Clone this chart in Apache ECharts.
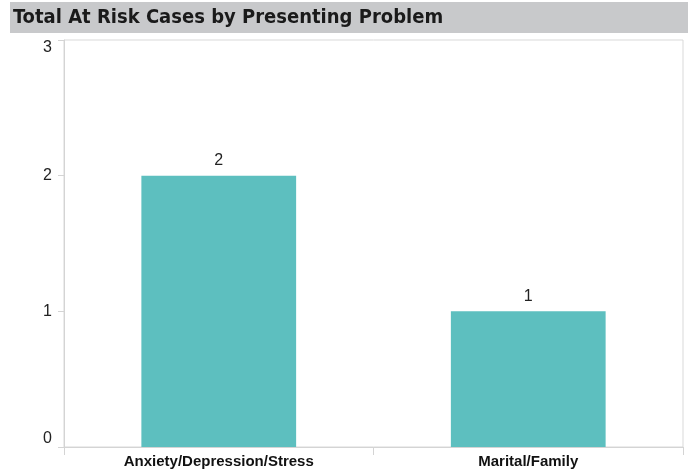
<!DOCTYPE html>
<html>
<head>
<meta charset="utf-8">
<script src="https://cdn.jsdelivr.net/npm/echarts@6/dist/echarts.min.js"></script>
<style>
  html, body { margin: 0; padding: 0; background: #ffffff; }
  #chart { width: 694px; height: 476px; }
</style>
</head>
<body>
<div id="chart"></div>
<script>
// Presenting problems and the number of at-risk cases for each
const categories = ['Anxiety/Depression/Stress', 'Marital/Family'];
const caseCounts = [2, 1];
const yTicks = [0, 1, 2, 3];

const chart = echarts.init(document.getElementById('chart'));

chart.setOption({
  animation: false,
  backgroundColor: '#ffffff',
  graphic: [
    {
      type: 'rect',
      shape: { x: 10, y: 2, width: 678, height: 31 },
      style: { fill: '#c8c9cb' },
      z: 0
    },
    {
      type: 'text',
      x: 13,
      y: 18,
      style: {
        text: 'Total At Risk Cases by Presenting Problem',
        font: 'bold 20px "DejaVu Sans Condensed", "DejaVu Sans", sans-serif',
        fill: '#1a1a1a',
        verticalAlign: 'middle'
      },
      z: 1
    }
  ],
  grid: {
    left: 64,
    right: 11,
    top: 40,
    bottom: 29,
    show: true,
    borderColor: '#d9d9d9',
    borderWidth: 1
  },
  xAxis: {
    type: 'category',
    data: categories,
    boundaryGap: true,
    axisLine: { show: true, lineStyle: { color: '#d4d4d4', width: 1 } },
    axisTick: { show: true, length: 8, alignWithLabel: false, lineStyle: { color: '#d4d4d4' } },
    axisLabel: {
      color: '#111111',
      fontFamily: '"Liberation Sans", Arial, sans-serif',
      fontWeight: 'bold',
      fontSize: 15,
      margin: 7
    }
  },
  yAxis: {
    type: 'value',
    min: yTicks[0],
    max: yTicks[yTicks.length - 1],
    interval: 1,
    axisLine: { show: true, lineStyle: { color: '#d4d4d4', width: 1 } },
    axisTick: { show: true, length: 6, lineStyle: { color: '#d4d4d4' } },
    splitLine: { show: false },
    axisLabel: {
      color: '#222222',
      fontFamily: '"Liberation Sans", Arial, sans-serif',
      fontSize: 16,
      margin: 12,
      verticalAlignMaxLabel: 'top',
      verticalAlignMinLabel: 'bottom'
    }
  },
  series: [
    {
      type: 'bar',
      data: caseCounts,
      barWidth: '50%',
      itemStyle: { color: '#5dbfbf' },
      label: {
        show: true,
        position: 'top',
        distance: 7,
        color: '#222222',
        fontFamily: '"Liberation Sans", Arial, sans-serif',
        fontSize: 16
      }
    }
  ]
});
</script>
</body>
</html>
